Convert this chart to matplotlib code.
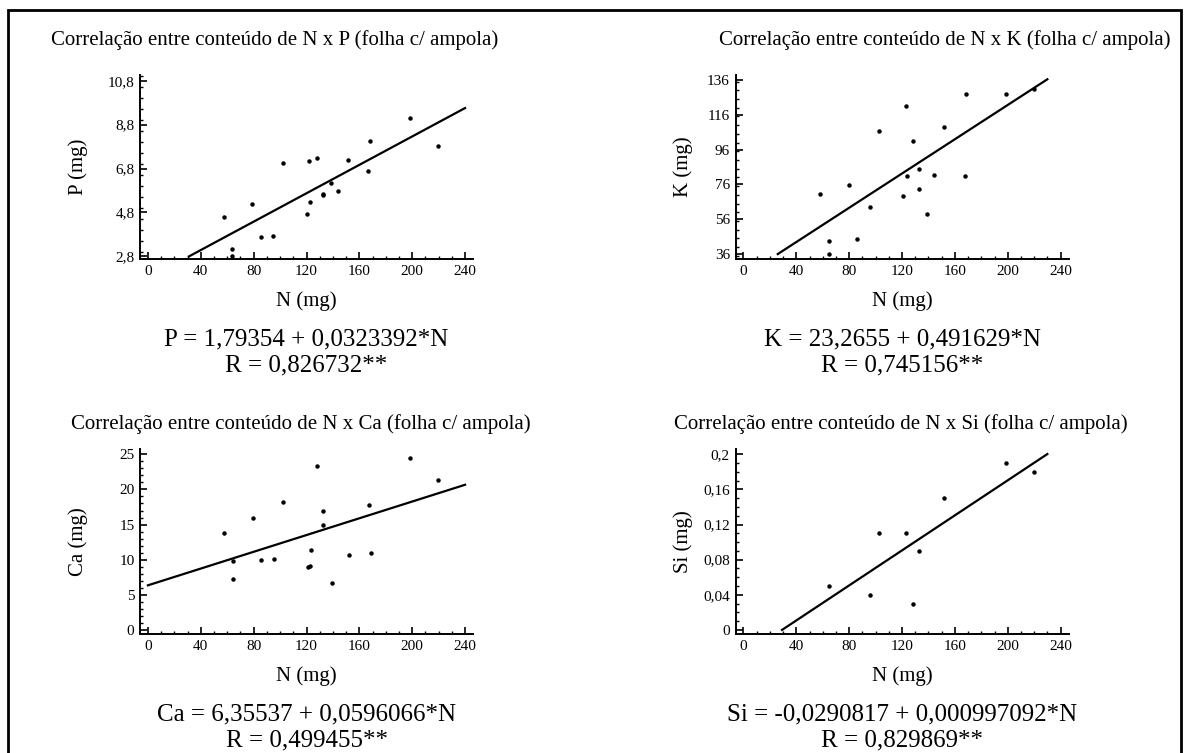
import matplotlib
matplotlib.use("Agg")
import matplotlib.pyplot as plt
from matplotlib.patches import Rectangle
from matplotlib.ticker import MultipleLocator, FuncFormatter

plt.rcParams['font.family'] = ['Liberation Serif', 'DejaVu Serif']

# N x P
n_p = [57.6, 63.9, 63.9, 79.1, 85.6, 95.0, 102.0, 120.5, 122.0, 123.0, 127.8,
       132.4, 132.4, 138.7, 143.5, 151.6, 166.7, 168.3, 198.2, 219.8]
p_vals = [4.59, 3.15, 2.80, 5.17, 3.67, 3.72, 7.04, 4.74, 7.14, 5.27, 7.29,
          5.62, 5.60, 6.14, 5.78, 7.20, 6.71, 8.05, 9.09, 7.82]

# N x K
n_k = [58.1, 64.4, 64.4, 79.6, 85.9, 95.5, 102.8, 121.0, 122.8, 123.5, 128.3,
       132.9, 132.9, 139.2, 144.3, 152.1, 167.3, 168.8, 198.6, 219.8]
k_vals = [70.7, 43.8, 36.0, 75.7, 44.9, 62.9, 106.8, 69.6, 121.2, 81.0, 100.9,
          85.1, 73.2, 59.3, 81.5, 109.2, 81.0, 127.8, 127.8, 130.7]

# N x Ca
n_ca = [57.9, 64.2, 64.2, 79.3, 85.9, 95.2, 102.3, 120.8, 122.3, 123.3, 128.1,
        132.6, 132.6, 139.0, 151.8, 167.0, 168.5, 198.3, 219.8]
ca_vals = [13.84, 9.80, 7.23, 15.97, 9.94, 10.08, 18.20, 8.94, 9.04, 11.37, 23.29,
           16.88, 14.88, 6.66, 10.70, 17.73, 10.99, 24.52, 21.34]

# N x Si
n_si = [64.4, 95.5, 102.8, 123.3, 128.3, 132.9, 152.1, 198.6, 219.8]
si_vals = [0.05, 0.04, 0.11, 0.11, 0.03, 0.09, 0.15, 0.19, 0.18]

# regression fits: intercept, slope, N range of the drawn line
fit_p = (1.79354, 0.0323392, [31, 240])
fit_k = (23.2655, 0.491629, [26, 230])
fit_ca = (6.35537, 0.0596066, [0, 240])
fit_si = (-0.0290817, 0.000997092, [29.2, 230])

panels = [
    dict(n=n_p, y=p_vals, fit=fit_p, name="P", ylim=(2.68, 11.06),
         major=2, minor=0.5, first=2.8, eq="P = 1,79354 + 0,0323392*N",
         r="R = 0,826732**"),
    dict(n=n_k, y=k_vals, fit=fit_k, name="K", ylim=(33.2, 138.8),
         major=20, minor=5, first=36, eq="K = 23,2655 + 0,491629*N",
         r="R = 0,745156**"),
    dict(n=n_ca, y=ca_vals, fit=fit_ca, name="Ca", ylim=(-0.57, 25.75),
         major=5, minor=1, first=0, eq="Ca = 6,35537 + 0,0596066*N",
         r="R = 0,499455**"),
    dict(n=n_si, y=si_vals, fit=fit_si, name="Si", ylim=(-0.0046, 0.206),
         major=0.04, minor=0.01, first=0, eq="Si = -0,0290817 + 0,000997092*N",
         r="R = 0,829869**"),
]

W, H = 1188, 753
fig = plt.figure(figsize=(W / 100, H / 100), dpi=100)

# outer frame
fig.patches.append(Rectangle((8 / W, -0.05), (1181 - 8) / W, 1.05 - 10 / H,
                             transform=fig.transFigure, fill=False,
                             edgecolor="black", linewidth=2))

# axes boxes in pixels: left, right, top, bottom
boxes = [(140, 473, 75, 259), (735.5, 1068.5, 75, 259),
         (140, 473, 449, 634), (735.5, 1068.5, 449, 634)]
# title centres (px) and y-label offsets (axes fraction)
title_x = [275, 945, 301, 901]
title_y = [40, 40, 424, 424]
label_x = [-0.156, -0.128, -0.156, -0.128]


def comma(v, pos):
    return "{:g}".format(round(v, 4)).replace(".", ",")


for i, (pan, (l, r, t, b)) in enumerate(zip(panels, boxes)):
    ax = fig.add_axes([l / W, 1 - b / H, (r - l) / W, (b - t) / H])
    ax.plot(pan["n"], pan["y"], "o", color="black", markersize=2.2)
    a, s, rng = pan["fit"]
    ax.plot(rng, [a + s * x for x in rng], color="black", linewidth=1.6)

    ax.set_xlim(-6, 246)
    ax.set_ylim(*pan["ylim"])
    ax.spines["top"].set_visible(False)
    ax.spines["right"].set_visible(False)
    ax.spines["left"].set_linewidth(1.4)
    ax.spines["bottom"].set_linewidth(1.4)

    ax.xaxis.set_major_locator(MultipleLocator(40))
    ax.xaxis.set_minor_locator(MultipleLocator(10))
    ticks = []
    v = pan["first"]
    while v <= pan["ylim"][1] + 1e-9:
        ticks.append(v)
        v += pan["major"]
    ax.set_yticks(ticks)
    ax.yaxis.set_minor_locator(MultipleLocator(pan["minor"]))
    ax.yaxis.set_major_formatter(FuncFormatter(comma))
    ax.tick_params(which="major", direction="in", length=5, width=1.2,
                   labelsize=11, pad=4)
    ax.tick_params(which="minor", direction="in", length=2.5, width=1)

    ax.set_xlabel("N (mg)", fontsize=15, labelpad=10)
    ax.set_ylabel(pan["name"] + " (mg)", fontsize=15)
    ax.yaxis.set_label_coords(label_x[i], 0.5)

    cx = (l + r) / 2 / W
    fig.text(title_x[i] / W, 1 - title_y[i] / H, "Correlação entre conteúdo de N x "
             + pan["name"] + " (folha c/ ampola)", ha="center", va="center",
             fontsize=15)
    fig.text(cx, 1 - (b + 80) / H, pan["eq"], ha="center", va="center",
             fontsize=18)
    fig.text(cx, 1 - (b + 106) / H, pan["r"], ha="center", va="center",
             fontsize=18)

fig.savefig("out.png", dpi=100)
